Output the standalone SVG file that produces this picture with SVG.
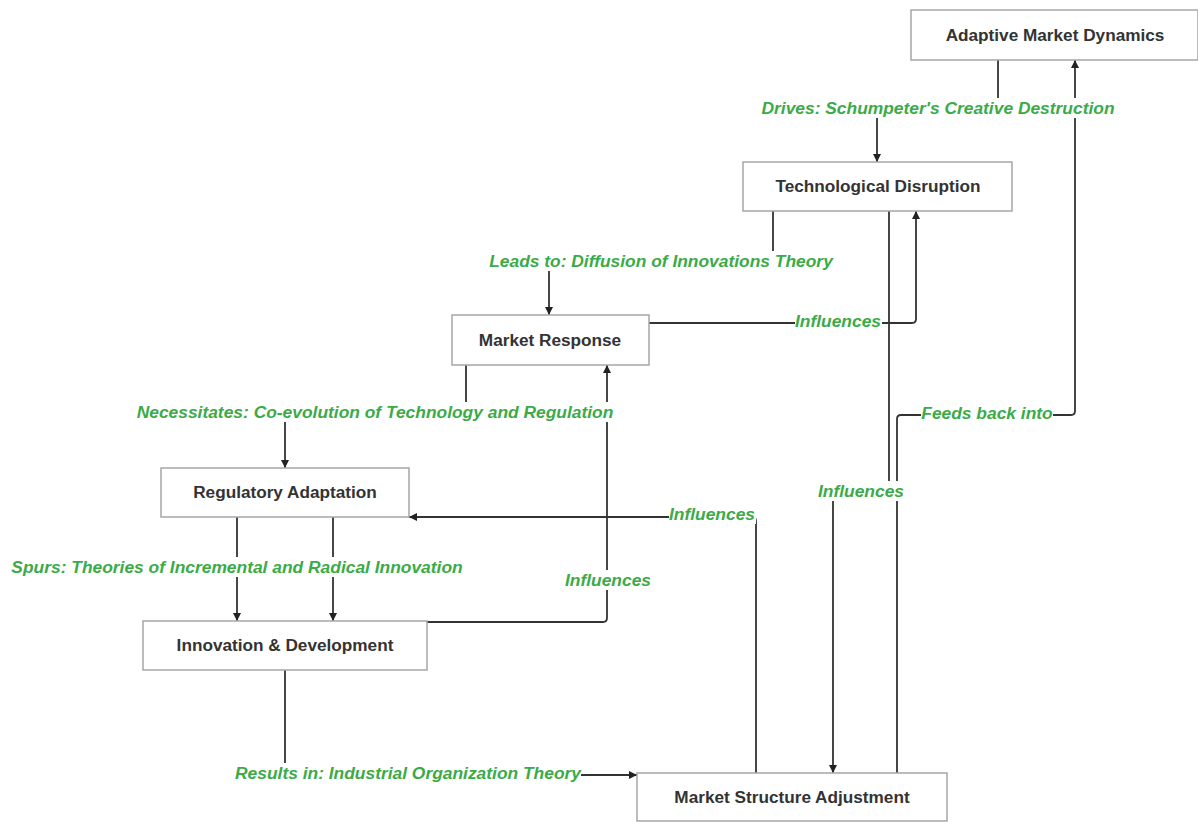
<svg xmlns="http://www.w3.org/2000/svg" width="1198" height="822" viewBox="0 0 1198 822">
<style>
.box{fill:#fff;stroke:#a6a6a6;stroke-width:1.5}
.nt{font-family:"Liberation Sans",Arial,sans-serif;font-weight:bold;font-size:17.2px;fill:#333;text-anchor:middle}
.edge{fill:none;stroke:#333;stroke-width:1.8;stroke-linejoin:round}
.lbg{fill:#fff}
.lt{font-family:"Liberation Sans",Arial,sans-serif;font-weight:bold;font-style:italic;font-size:17.4px;fill:#3aab47;text-anchor:middle}
</style>
<defs>
<marker id="arr" viewBox="0 0 10 10" refX="10" refY="5" markerWidth="8" markerHeight="9" markerUnits="userSpaceOnUse" orient="auto">
<path d="M0,0 L10,5 L0,10 z" fill="#222"/>
</marker>
</defs>
<rect width="1198" height="822" fill="#fff"/>
<g id="connectors">
<path class="edge" d="M998,60 V108 H877 V162" marker-end="url(#arr)"/>
<path class="edge" d="M773,211 V261 H549 V315" marker-end="url(#arr)"/>
<path class="edge" d="M466,365 V412 H285 V468" marker-end="url(#arr)"/>
<path class="edge" d="M237,517 V621" marker-end="url(#arr)"/>
<path class="edge" d="M333,517 V621" marker-end="url(#arr)"/>
<path class="edge" d="M427,622 H603 Q607,622 607,618 V365" marker-end="url(#arr)"/>
<path class="edge" d="M649,323 H912 Q916,323 916,319 V211" marker-end="url(#arr)"/>
<path class="edge" d="M285,670 V775 H637" marker-end="url(#arr)"/>
<path class="edge" d="M756,773 V521 Q756,517 752,517 H409" marker-end="url(#arr)"/>
<path class="edge" d="M889,211 V491 H833 V773" marker-end="url(#arr)"/>
<path class="edge" d="M897,773 V419 Q897,415 901,415 H1071 Q1075,415 1075,411 V60" marker-end="url(#arr)"/>
<g id="edge-labels">
<rect class="lbg" x="761" y="98" width="354" height="20"/>
<text class="lt" x="938" y="114">Drives: Schumpeter's Creative Destruction</text>
<rect class="lbg" x="489" y="251" width="344" height="20"/>
<text class="lt" x="661" y="267">Leads to: Diffusion of Innovations Theory</text>
<rect class="lbg" x="136" y="402" width="478" height="20"/>
<text class="lt" x="375" y="418">Necessitates: Co-evolution of Technology and Regulation</text>
<rect class="lbg" x="10" y="557" width="454" height="20"/>
<text class="lt" x="237" y="573">Spurs: Theories of Incremental and Radical Innovation</text>
<rect class="lbg" x="565" y="570" width="87" height="20"/>
<text class="lt" x="608" y="586">Influences</text>
<rect class="lbg" x="795" y="311" width="87" height="20"/>
<text class="lt" x="838" y="327">Influences</text>
<rect class="lbg" x="235" y="763" width="346" height="20"/>
<text class="lt" x="408" y="779">Results in: Industrial Organization Theory</text>
<rect class="lbg" x="669" y="504" width="87" height="20"/>
<text class="lt" x="712" y="520">Influences</text>
<rect class="lbg" x="818" y="481" width="87" height="20"/>
<text class="lt" x="861" y="497">Influences</text>
<rect class="lbg" x="921" y="403" width="132" height="20"/>
<text class="lt" x="987" y="419">Feeds back into</text>
</g>
</g>
<g id="adaptive-market-dynamics">
<rect class="box" x="911" y="10" width="287" height="50"/>
<text class="nt" x="1055" y="41">Adaptive Market Dynamics</text>
</g>
<g id="technological-disruption">
<rect class="box" x="743" y="162" width="269" height="49"/>
<text class="nt" x="878" y="192">Technological Disruption</text>
</g>
<g id="market-response">
<rect class="box" x="452" y="315" width="197" height="50"/>
<text class="nt" x="550" y="346">Market Response</text>
</g>
<g id="regulatory-adaptation">
<rect class="box" x="161" y="468" width="248" height="49"/>
<text class="nt" x="285" y="498">Regulatory Adaptation</text>
</g>
<g id="innovation-development">
<rect class="box" x="143" y="621" width="284" height="49"/>
<text class="nt" x="285" y="651">Innovation &amp; Development</text>
</g>
<g id="market-structure-adjustment">
<rect class="box" x="637" y="773" width="310" height="48"/>
<text class="nt" x="792" y="803">Market Structure Adjustment</text>
</g>
</svg>
